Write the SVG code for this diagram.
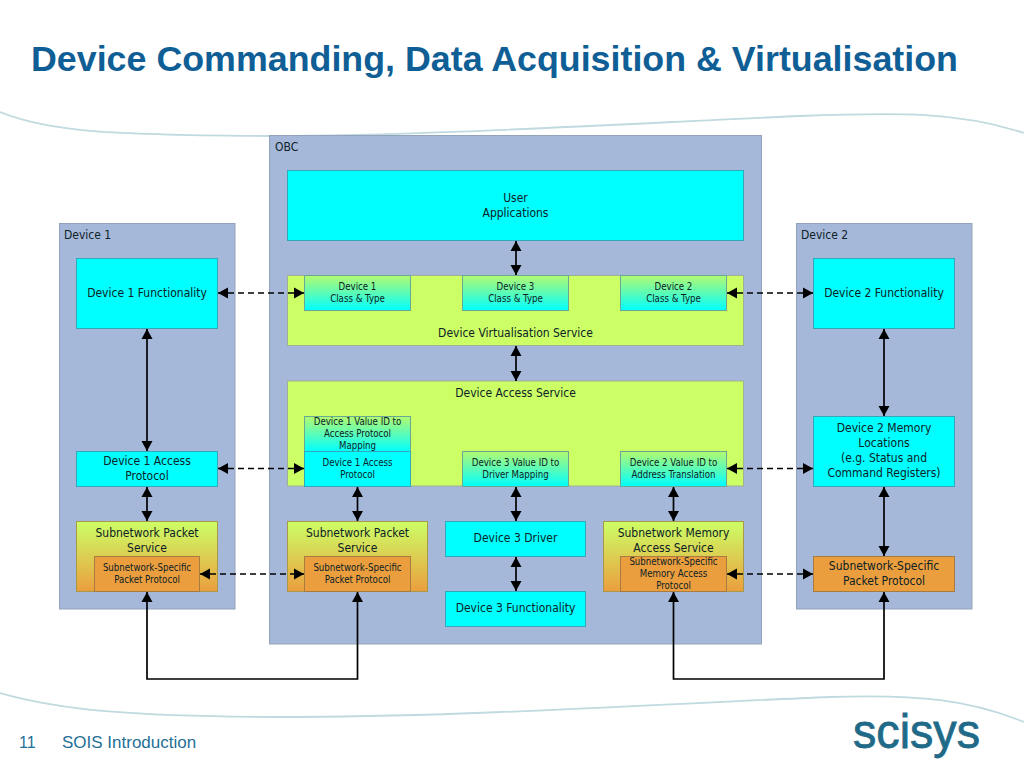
<svg xmlns="http://www.w3.org/2000/svg" width="1024" height="768" viewBox="0 0 1024 768">
<style>
text{font-family:"DejaVu Sans","Noto Sans",sans-serif;font-stretch:condensed;fill:#0c2226;text-anchor:middle}
.s{font-size:12px}.xs{font-size:9.6px}
.l{text-anchor:start}
.con{fill:#a6b8da;stroke:#93a3bb;stroke-width:1}
.c{fill:#00ffff;stroke:#34a8b8;stroke-width:1}
.g{fill:#ccff66;stroke:#a0b094;stroke-width:1}
.o{fill:#eb9e3e;stroke:#a87c40;stroke-width:1}
.t{fill:url(#gc);stroke:#6aa896;stroke-width:1}
.sv{fill:url(#go);stroke:#a89a48;stroke-width:1}
.sol,.das{fill:none;stroke:#000;stroke-width:1.7;marker-start:url(#a);marker-end:url(#a)}
.das{stroke-dasharray:6 4}
.sw{fill:none;stroke:#c0dae0;stroke-width:1.8}
</style>
<defs>
<linearGradient id="gc" x1="0" y1="0" x2="0" y2="1"><stop offset="0" stop-color="#b4fa70"/><stop offset="1" stop-color="#00ffff"/></linearGradient>
<linearGradient id="go" x1="0" y1="0" x2="0" y2="1"><stop offset="0" stop-color="#ccff66"/><stop offset="1" stop-color="#eb9e3e"/></linearGradient>
<marker id="a" markerUnits="userSpaceOnUse" markerWidth="12" markerHeight="12" refX="10" refY="6" orient="auto-start-reverse"><path d="M0 0.500L10 6L0 11.500z" fill="#000"/></marker>
</defs>
<rect width="1024" height="768" fill="#fff"/>
<g id="decor">
<path class="sw" d="M0 112C50 132 110 135 270 136C420 136 620 124 800 116C900 112 960 112 1024 133"/>
<path class="sw" d="M0 693C60 710 130 717 300 717C480 716 680 703 830 697C920 694 970 700 1024 722"/>
</g>
<text id="title" x="31" y="71" class="l" style="font-family:'Liberation Sans',Arial,sans-serif;font-stretch:normal;font-weight:700;font-size:35.8px;fill:#0f5f96">Device Commanding, Data Acquisition &amp; Virtualisation</text>
<text id="page" x="19" y="748" class="l" style="font-family:'Liberation Sans',Arial,sans-serif;font-stretch:normal;font-size:16px;fill:#1f6f96">11</text>
<text id="footer" x="62" y="748" class="l" style="font-family:'Liberation Sans',Arial,sans-serif;font-stretch:normal;font-size:17px;fill:#1f6f96">SOIS Introduction</text>
<text id="logo" x="916.500" y="748" style="font-family:'Liberation Sans',Arial,sans-serif;font-stretch:normal;font-size:48px;fill:#1f6a88;stroke:#1f6a88;stroke-width:.8" textLength="127" lengthAdjust="spacingAndGlyphs">scisys</text>

<g id="obc"><rect class="con" x="269.500" y="135.500" width="492" height="508.500"/><text class="s l" x="275" y="151">OBC</text></g>
<g id="device1"><rect class="con" x="59.500" y="223.500" width="175.500" height="385.500"/><text class="s l" x="64" y="239">Device 1</text></g>
<g id="device2"><rect class="con" x="796.500" y="223.500" width="175.500" height="385.500"/><text class="s l" x="801" y="239">Device 2</text></g>

<g id="user-apps"><rect class="c" x="287.500" y="170.500" width="456" height="70"/><text class="s" x="515.500" y="202">User</text><text class="s" x="515.500" y="217">Applications</text></g>

<g id="dvs"><rect class="g" x="287.500" y="275.500" width="456" height="70"/><text class="s" x="515.500" y="337">Device Virtualisation Service</text></g>
<g id="d1-class"><rect class="t" x="304.500" y="275.500" width="106" height="35"/><text class="xs" x="357.500" y="290">Device 1</text><text class="xs" x="357.500" y="302">Class &amp; Type</text></g>
<g id="d3-class"><rect class="t" x="462.500" y="275.500" width="106" height="35"/><text class="xs" x="515.500" y="290">Device 3</text><text class="xs" x="515.500" y="302">Class &amp; Type</text></g>
<g id="d2-class"><rect class="t" x="620.500" y="275.500" width="106" height="35"/><text class="xs" x="673.500" y="290">Device 2</text><text class="xs" x="673.500" y="302">Class &amp; Type</text></g>

<g id="das"><rect class="g" x="287.500" y="381" width="456" height="105"/><text class="s" x="515.500" y="397">Device Access Service</text></g>
<g id="d1-map"><rect class="t" x="304.500" y="416.500" width="106" height="35"/><text class="xs" x="357.500" y="425">Device 1 Value ID to</text><text class="xs" x="357.500" y="437">Access Protocol</text><text class="xs" x="357.500" y="449">Mapping</text></g>
<g id="d1-ap"><rect class="c" x="304.500" y="451.500" width="106" height="35"/><text class="xs" x="357.500" y="466">Device 1 Access</text><text class="xs" x="357.500" y="478">Protocol</text></g>
<g id="d3-map"><rect class="t" x="462.500" y="451.500" width="106" height="35"/><text class="xs" x="515.500" y="466">Device 3 Value ID to</text><text class="xs" x="515.500" y="478">Driver Mapping</text></g>
<g id="d2-map"><rect class="t" x="620.500" y="451.500" width="106" height="35"/><text class="xs" x="673.500" y="466">Device 2 Value ID to</text><text class="xs" x="673.500" y="478">Address Translation</text></g>

<g id="d1-func"><rect class="c" x="76.500" y="258.500" width="141" height="70"/><text class="s" x="147" y="297">Device 1 Functionality</text></g>
<g id="d1-access"><rect class="c" x="76.500" y="451.500" width="141" height="35"/><text class="s" x="147" y="465">Device 1 Access</text><text class="s" x="147" y="480">Protocol</text></g>
<g id="d1-sps"><rect class="sv" x="76.500" y="521.500" width="141" height="70"/><text class="s" x="147" y="537">Subnetwork Packet</text><text class="s" x="147" y="552">Service</text></g>
<g id="d1-ssp"><rect class="o" x="94.500" y="556.500" width="105" height="35"/><text class="xs" x="147" y="571">Subnetwork-Specific</text><text class="xs" x="147" y="583">Packet Protocol</text></g>

<g id="obc-sps"><rect class="sv" x="287.500" y="521.500" width="140" height="70"/><text class="s" x="357.500" y="537">Subnetwork Packet</text><text class="s" x="357.500" y="552">Service</text></g>
<g id="obc-ssp"><rect class="o" x="304.500" y="556.500" width="106" height="35"/><text class="xs" x="357.500" y="571">Subnetwork-Specific</text><text class="xs" x="357.500" y="583">Packet Protocol</text></g>
<g id="d3-driver"><rect class="c" x="445.500" y="521.500" width="140" height="35"/><text class="s" x="515.500" y="542">Device 3 Driver</text></g>
<g id="d3-func"><rect class="c" x="445.500" y="591.500" width="140" height="35"/><text class="s" x="515.500" y="612">Device 3 Functionality</text></g>
<g id="obc-sms"><rect class="sv" x="603.500" y="521.500" width="140" height="70"/><text class="s" x="673.500" y="537">Subnetwork Memory</text><text class="s" x="673.500" y="552">Access Service</text></g>
<g id="obc-ssm"><rect class="o" x="620.500" y="556.500" width="106" height="35"/><text class="xs" x="673.500" y="565">Subnetwork-Specific</text><text class="xs" x="673.500" y="577">Memory Access</text><text class="xs" x="673.500" y="589">Protocol</text></g>

<g id="d2-func"><rect class="c" x="813.500" y="258.500" width="141" height="70"/><text class="s" x="884" y="297">Device 2 Functionality</text></g>
<g id="d2-mem"><rect class="c" x="813.500" y="416.500" width="141" height="70"/><text class="s" x="884" y="432">Device 2 Memory</text><text class="s" x="884" y="447">Locations</text><text class="s" x="884" y="462">(e.g. Status and</text><text class="s" x="884" y="477">Command Registers)</text></g>
<g id="d2-ssp"><rect class="o" x="813.500" y="556.500" width="141" height="35"/><text class="s" x="884" y="570">Subnetwork-Specific</text><text class="s" x="884" y="585">Packet Protocol</text></g>

<g id="connectors">
<path class="sol" d="M516 241V275"/>
<path class="sol" d="M516 346V381"/>
<path class="sol" d="M516 487V521"/>
<path class="sol" d="M516 557V591"/>
<path class="sol" d="M147 329V451"/>
<path class="sol" d="M147 487V521"/>
<path class="sol" d="M357.500 487V521"/>
<path class="sol" d="M673.500 487V521"/>
<path class="sol" d="M884 329V416"/>
<path class="sol" d="M884 487V556"/>
<path class="sol" d="M147 592V679H357.500V592"/>
<path class="sol" d="M673.500 592V679H884V592"/>
<path class="das" d="M218 293H304"/>
<path class="das" d="M727 293H813"/>
<path class="das" d="M218 468.500H304"/>
<path class="das" d="M727 468.500H813"/>
<path class="das" d="M200 574H304"/>
<path class="das" d="M727 574H813"/>
</g>
</svg>
